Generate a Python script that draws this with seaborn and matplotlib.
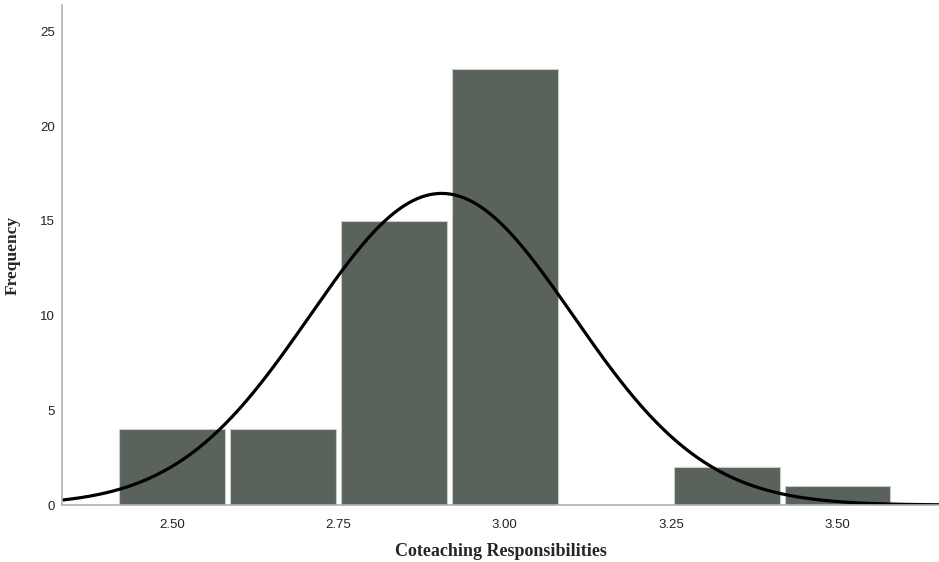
import matplotlib

matplotlib.use("Agg")
import matplotlib.pyplot as plt
import numpy as np
import pandas as pd
import seaborn as sns

# histogram (bin centers, counts)
bin_centers = [2.5, 2.6667, 2.8333, 3.0, 3.1667, 3.3333, 3.5]
counts = [4, 4, 15, 23, 0, 2, 1]
bin_width = 1 / 6

# fitted normal curve
curve_mean = 2.905
curve_sd = 0.198

x_ticks = [2.50, 2.75, 3.00, 3.25, 3.50]
x_tick_labels = ["2.50", "2.75", "3.00", "3.25", "3.50"]
y_ticks = [0, 5, 10, 15, 20, 25]

df = pd.DataFrame({"value": bin_centers, "count": counts})

sns.set_style("white")
fig = plt.figure(figsize=(9.39, 5.62), dpi=100)
ax = fig.add_axes([0.066, 0.1014, 0.934, 0.8896])

sns.histplot(
    data=df,
    x="value",
    weights="count",
    binwidth=bin_width,
    binrange=(bin_centers[0] - bin_width / 2, bin_centers[-1] + bin_width / 2),
    shrink=0.95,
    color="#5a625c",
    edgecolor="#c8ccc9",
    linewidth=0.8,
    alpha=1,
    ax=ax,
)

xs = np.linspace(2.3, 3.7, 400)
total = sum(counts)
ys = total * bin_width / (curve_sd * np.sqrt(2 * np.pi)) * np.exp(-0.5 * ((xs - curve_mean) / curve_sd) ** 2)
sns.lineplot(x=xs, y=ys, color="black", linewidth=2.3, ax=ax)

ax.set_xlim(2.335, 3.652)
ax.set_ylim(0, 26.4)
ax.set_xticks(x_ticks)
ax.set_xticklabels(x_tick_labels)
ax.set_yticks(y_ticks)
ax.tick_params(axis="both", length=0, labelsize=9.5, colors="#222222")
ax.tick_params(axis="x", pad=10)
ax.tick_params(axis="y", pad=5)
for lab in ax.get_xticklabels() + ax.get_yticklabels():
    lab.set_family("Liberation Sans")

for side in ["top", "right"]:
    ax.spines[side].set_visible(False)
for side in ["left", "bottom"]:
    ax.spines[side].set_color("#b0b0b0")
    ax.spines[side].set_linewidth(1.2)

ax.set_xlabel("Coteaching Responsibilities", family="Liberation Serif", fontweight="bold", fontsize=13, labelpad=9)
ax.set_ylabel("Frequency", family="Liberation Serif", fontweight="bold", fontsize=12.5, labelpad=14)

fig.savefig("out.png", dpi=100)
